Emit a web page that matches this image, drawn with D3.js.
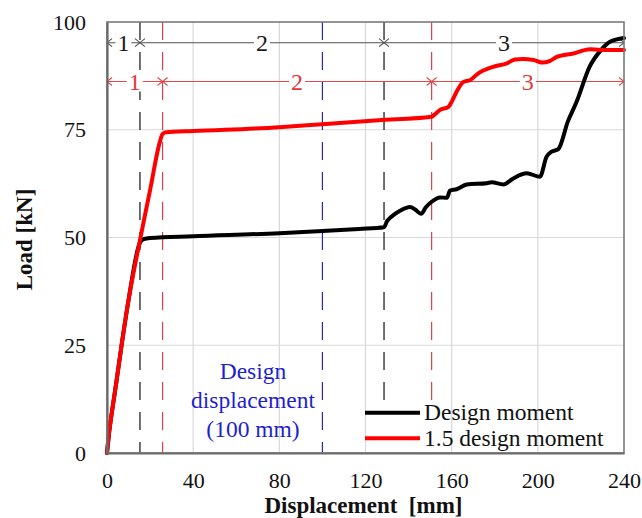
<!DOCTYPE html>
<html>
<head>
<meta charset="utf-8">
<script src="https://cdn.jsdelivr.net/npm/d3@7/dist/d3.min.js"></script>
<style>
  html, body { margin: 0; padding: 0; background: #fff; }
  svg { display: block; }
  svg text { font-family: "Liberation Serif", "Times New Roman", serif !important; }
</style>
</head>
<body>
<svg id="chart" width="642" height="518"></svg>
<script>
// Load–displacement response of the two specimens
const designDisp = [0, 1, 2.2, 4.5, 7, 10, 14.6, 15.5, 17, 20, 40, 80, 100, 117, 128.6, 130, 132, 136, 140.7, 143, 145.8, 148, 150.7, 154.6, 157.8, 159.2, 162.3, 167, 176.3, 178.6, 184, 188.6, 194.8, 201, 204, 206.4, 209.5, 214, 218, 224, 229, 233.5, 240];
const designLoad = [0, 4.8, 9.2, 17, 25.8, 35.5, 47.8, 49.0, 49.6, 49.9, 50.3, 51.0, 51.5, 52.0, 52.4, 53.8, 54.8, 56.2, 57.1, 56.5, 55.5, 57.0, 58.3, 59.3, 59.2, 60.9, 61.2, 62.3, 62.6, 62.8, 62.3, 63.7, 64.9, 64.1, 68.7, 69.9, 70.5, 77.0, 81.5, 89.6, 93.3, 95.4, 96.3];

const factoredDisp = [0, 1, 2.2, 4.5, 7, 10, 15.3, 20, 24.6, 25.8, 27.5, 40, 80, 100, 126, 150.7, 152, 154.6, 158.5, 160, 162.3, 165.4, 168.5, 172.4, 179.3, 185.6, 189.4, 193, 198, 201.8, 205.7, 208.8, 216.5, 224.2, 228.9, 240];
const factoredLoad = [0, 4.8, 9.2, 17, 25.8, 35.5, 49.4, 61.0, 72.3, 74.0, 74.4, 74.7, 75.6, 76.3, 77.2, 78.0, 78.5, 79.6, 80.3, 81.5, 83.8, 86.1, 86.5, 88.1, 89.6, 90.4, 91.3, 91.4, 91.2, 90.6, 91.0, 91.9, 92.7, 93.7, 93.5, 93.5];

const seriesNames = ["Design moment", "1.5 design moment"];
const seriesColors = ["#000000", "#ff0000"];

const xTicks = [0, 40, 80, 120, 160, 200, 240];
const yTicks = [0, 25, 50, 75, 100];

// Stage boundaries (mm) and the load level of each stage annotation
const designStages = [0, 15.3, 128.6, 240];
const factoredStages = [0, 25.8, 150.7, 240];
const stageNames = ["1", "2", "3"];
const designStageLevel = 95.2;
const factoredStageLevel = 86.2;
const designDisplacement = 100;
const designDisplacementText = ["Design", "displacement", "(100 mm)"];

const serif = "'Liberation Serif', 'Times New Roman', serif";
const svg = d3.select("#chart");
const m = { left: 107, top: 22, right: 18, bottom: 65 };
const W = 642, H = 518;

const x = d3.scaleLinear().domain([0, 240]).range([m.left, W - m.right]);
const y = d3.scaleLinear().domain([0, 100]).range([H - m.bottom, m.top]);

// gridlines
const grid = svg.append("g");
grid.selectAll(".gx").data(xTicks.slice(1, -1)).join("line")
  .attr("x1", d => x(d)).attr("x2", d => x(d))
  .attr("y1", y(0)).attr("y2", y(100))
  .attr("stroke", "#d9d9d9").attr("stroke-width", 1.2);
grid.selectAll(".gy").data(yTicks.slice(1, -1)).join("line")
  .attr("x1", x(0)).attr("x2", x(240))
  .attr("y1", d => y(d)).attr("y2", d => y(d))
  .attr("stroke", "#d9d9d9").attr("stroke-width", 1.2);

// vertical stage boundaries
const dash = "18,12";
const vlines = [
  { v: designStages[1], c: "#111111", bottom: 0 },
  { v: factoredStages[1], c: "#d9404a", bottom: 0 },
  { v: designDisplacement, c: "#2a2ab8", bottom: 0 },
  { v: designStages[2], c: "#111111", bottom: 12.3 },
  { v: factoredStages[2], c: "#d9404a", bottom: 12.3 }
];
svg.append("g").selectAll("line").data(vlines).join("line")
  .attr("x1", d => x(d.v)).attr("x2", d => x(d.v))
  .attr("y1", y(100)).attr("y2", d => y(d.bottom))
  .attr("stroke", d => d.c).attr("stroke-width", 1.2)
  .attr("stroke-dasharray", dash);

// stage annotations: arrowed spans with centred numbers
function stageBar(bounds, level, lineColor, textColor) {
  const g = svg.append("g");
  const yy = y(level);
  g.append("line").attr("x1", x(bounds[0])).attr("x2", x(bounds[bounds.length - 1]))
    .attr("y1", yy).attr("y2", yy).attr("stroke", lineColor).attr("stroke-width", 1.1);
  const a = 5, h = 4;
  for (let i = 0; i < bounds.length - 1; i++) {
    const x0 = x(bounds[i]), x1 = x(bounds[i + 1]);
    // arrowhead pointing left at start, right at end
    g.append("path").attr("d", `M${x0 + a},${yy - h}L${x0},${yy}L${x0 + a},${yy + h}`)
      .attr("fill", "none").attr("stroke", lineColor).attr("stroke-width", 1.1);
    g.append("path").attr("d", `M${x1 - a},${yy - h}L${x1},${yy}L${x1 - a},${yy + h}`)
      .attr("fill", "none").attr("stroke", lineColor).attr("stroke-width", 1.1);
    const cx = (x0 + x1) / 2;
    g.append("rect").attr("x", cx - 8).attr("y", yy - 10).attr("width", 16).attr("height", 20)
      .attr("fill", "#fff");
    g.append("text").attr("x", cx).attr("y", yy).attr("dy", "0.36em")
      .attr("text-anchor", "middle").style("font-family", serif).style("font-size", "24px")
      .attr("fill", textColor).text(stageNames[i]);
  }
}
stageBar(designStages, designStageLevel, "#505050", "#1a1a1a");
stageBar(factoredStages, factoredStageLevel, "#e5474b", "#e0393c");

// curves
const line = d3.line().x(d => x(d[0])).y(d => y(d[1])).curve(d3.curveMonotoneX);
const series = [
  d3.zip(designDisp, designLoad),
  d3.zip(factoredDisp, factoredLoad)
];
svg.append("g").selectAll("path").data(series).join("path")
  .attr("d", line)
  .attr("fill", "none")
  .attr("stroke", (d, i) => seriesColors[i])
  .attr("stroke-width", 4)
  .attr("stroke-linejoin", "round")
  .attr("stroke-linecap", "round");

// plot frame
svg.append("rect").attr("x", x(0)).attr("y", y(100))
  .attr("width", x(240) - x(0)).attr("height", y(0) - y(100))
  .attr("fill", "none").attr("stroke", "#7a7a7a").attr("stroke-width", 1.6);

// axes
const xAxis = svg.append("g").attr("transform", `translate(0,${y(0)})`)
  .call(d3.axisBottom(x).tickValues(xTicks).tickSize(0).tickPadding(19));
xAxis.attr("font-family", null);
xAxis.select(".domain").attr("stroke", "#6a6a6a").attr("stroke-width", 2.2);
xAxis.selectAll("text").style("font-family", serif).style("font-size", "22px").attr("fill", "#111");

const yAxis = svg.append("g").attr("transform", `translate(${x(0)},0)`)
  .call(d3.axisLeft(y).tickValues(yTicks).tickSize(0).tickPadding(21));
yAxis.attr("font-family", null);
yAxis.select(".domain").attr("stroke", "#6a6a6a").attr("stroke-width", 2.2);
yAxis.selectAll("text").style("font-family", serif).style("font-size", "22px").attr("fill", "#111");

// axis titles
svg.append("text").attr("x", (x(0) + x(240)) / 2 - 2).attr("y", 513)
  .attr("text-anchor", "middle").style("font-family", serif).style("font-size", "23px")
  .style("font-weight", "bold").style("white-space", "pre")
  .attr("fill", "#111").attr("xml:space", "preserve").text("Displacement  [mm]");
svg.append("text").attr("transform", `translate(32,${(y(0) + y(100)) / 2 + 2}) rotate(-90)`)
  .attr("text-anchor", "middle").style("font-family", serif).style("font-size", "23px")
  .style("font-weight", "bold").attr("fill", "#111").text("Load [kN]");

// design displacement note
svg.append("g").selectAll("text").data(designDisplacementText).join("text")
  .attr("x", 253).attr("y", (d, i) => 379 + i * 29)
  .attr("text-anchor", "middle").style("font-family", serif).style("font-size", "23.5px")
  .attr("fill", "#1f1fd0").text(d => d);

// legend
const legend = svg.append("g");
seriesNames.forEach((name, i) => {
  const ly = 412.7 + i * 25.5;
  legend.append("line").attr("x1", 365).attr("x2", 420).attr("y1", ly).attr("y2", ly)
    .attr("stroke", seriesColors[i]).attr("stroke-width", 4);
  legend.append("text").attr("x", 424).attr("y", ly + 7.5)
    .style("font-family", serif).style("font-size", "23.5px").attr("fill", "#111").text(name);
});
</script>
</body>
</html>
